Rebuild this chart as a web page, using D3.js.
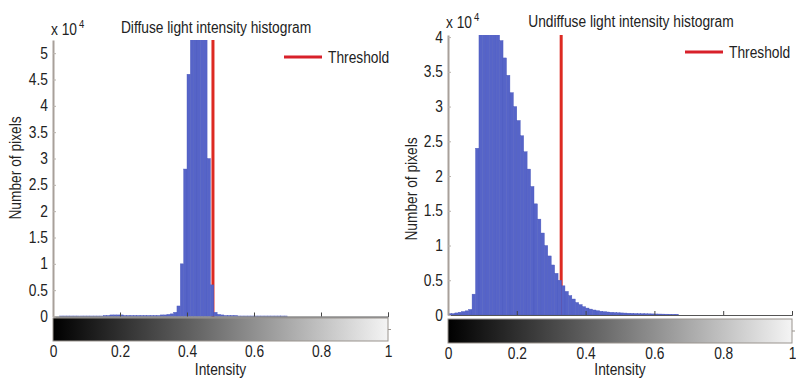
<!DOCTYPE html>
<html>
<head>
<meta charset="utf-8">
<script src="https://cdn.jsdelivr.net/npm/d3@7"></script>
<style>
  body { margin: 0; background: #fff; }
  svg text { font-family: "Liberation Sans", Arial, sans-serif; fill: #222; }
</style>
</head>
<body>
<svg id="chart" width="796" height="379"></svg>
<script>
// histogram bins, width 0.01 on the intensity axis, counts in units of 10^4 pixels
const binWidth = 0.01;
const binStarts = d3.range(100).map(i => i / 100);

const diffuseCounts = [
  0, 0, 0.01, 0.01, 0.01, 0.01, 0.01, 0.01, 0.01, 0.01,
  0.01, 0.01, 0.01, 0.01, 0.01, 0.02, 0.02, 0.03, 0.03, 0.03,
  0.03, 0.02, 0.02, 0.02, 0.02, 0.02, 0.02, 0.02, 0.02, 0.02,
  0.02, 0.02, 0.03, 0.03, 0.04, 0.05, 0.08, 0.2, 1.0, 2.8,
  4.6, 5.6, 6.4, 6.7, 6.3, 5.4, 3.0, 0.6, 0.08, 0.04,
  0.03, 0.02, 0.02, 0.02, 0.02, 0.01, 0.01, 0.01, 0.01, 0.01,
  0.01, 0.01, 0.01, 0.01, 0.01, 0.01, 0.01, 0.01, 0.01, 0.01,
  0, 0, 0, 0, 0, 0, 0, 0, 0, 0,
  0, 0, 0, 0, 0, 0, 0, 0, 0, 0,
  0, 0, 0, 0, 0, 0, 0, 0, 0, 0
];

const undiffuseCounts = [
  0.02, 0.02, 0.03, 0.04, 0.05, 0.06, 0.08, 0.3, 2.4, 4.4,
  5.1, 5.2, 5.0, 4.7, 4.3, 3.95, 3.7, 3.45, 3.2, 3.0,
  2.8, 2.58, 2.35, 2.1, 1.85, 1.6, 1.38, 1.18, 1.0, 0.85,
  0.72, 0.6, 0.5, 0.42, 0.34, 0.28, 0.23, 0.18, 0.15, 0.12,
  0.1, 0.085, 0.072, 0.062, 0.054, 0.048, 0.043, 0.039, 0.035, 0.032,
  0.03, 0.028, 0.026, 0.024, 0.022, 0.02, 0.019, 0.018, 0.017, 0.016,
  0.015, 0.014, 0.013, 0.012, 0.011, 0.01, 0.01, 0, 0, 0,
  0, 0, 0, 0, 0, 0, 0, 0, 0, 0,
  0, 0, 0, 0, 0, 0, 0, 0, 0, 0,
  0, 0, 0, 0, 0, 0, 0, 0, 0, 0
];

const diffuseThreshold = 0.4775;
const undiffuseThreshold = 0.329;

const diffuseYTicks = [0, 0.5, 1, 1.5, 2, 2.5, 3, 3.5, 4, 4.5, 5];
const undiffuseYTicks = [0, 0.5, 1, 1.5, 2, 2.5, 3, 3.5, 4];
const xTicks = [0, 0.2, 0.4, 0.6, 0.8, 1];

const titles = ["Diffuse light intensity histogram", "Undiffuse light intensity histogram"];
const yLabel = "Number of pixels";
const xLabel = "Intensity";
const legendLabel = "Threshold";

const svg = d3.select("#chart");
const fmt = d3.format("~g");
const squeeze = 0.86; // the figure uses a condensed face

// narrow a label horizontally to mimic the condensed typeface
function condense(sel) {
  sel.each(function () {
    var w = this.getComputedTextLength();
    if (w > 0) d3.select(this).attr("textLength", w * squeeze).attr("lengthAdjust", "spacingAndGlyphs");
  });
  return sel;
}

// grey ramp for the colour bar under each plot
const grad = svg.append("defs").append("linearGradient").attr("id", "greys");
grad.append("stop").attr("offset", "0%").attr("stop-color", "#000");
grad.append("stop").attr("offset", "45%").attr("stop-color", "#6a6a6a");
grad.append("stop").attr("offset", "100%").attr("stop-color", "#f4f4f4");

function drawPanel(o) {
  var x = d3.scaleLinear().domain([0, 1]).range([o.x0, o.x1]);
  var y = d3.scaleLinear().domain([0, o.ymax]).range([o.y0, o.y1]);
  var g = svg.append("g");

  g.append("clipPath").attr("id", o.id)
    .append("rect")
    .attr("x", o.x0).attr("y", o.y1)
    .attr("width", o.x1 - o.x0).attr("height", o.y0 - o.y1);

  // threshold (under the histogram)
  g.append("line")
    .attr("x1", x(o.threshold)).attr("x2", x(o.threshold))
    .attr("y1", y(0)).attr("y2", y(o.ymax))
    .attr("stroke", "#dd2a22").attr("stroke-width", 3);

  g.append("g").attr("clip-path", "url(#" + o.id + ")")
    .selectAll("rect")
    .data(o.counts)
    .enter().append("rect")
    .attr("x", (d, i) => x(binStarts[i]))
    .attr("width", (d, i) => x(binStarts[i] + binWidth) - x(binStarts[i]))
    .attr("y", d => y(d))
    .attr("height", d => y(0) - y(d))
    .attr("fill", "#5664c8")
    .attr("stroke", "#4a57bc")
    .attr("stroke-width", 0.4);

  // colour bar
  g.append("rect")
    .attr("x", x(0)).attr("y", o.cb0)
    .attr("width", x(1) - x(0)).attr("height", o.cb1 - o.cb0)
    .attr("fill", "url(#greys)")
    .attr("stroke", "#9a948e").attr("stroke-width", 1);

  g.append("line")
    .attr("x1", x(1)).attr("x2", x(1) + 3)
    .attr("y1", (o.cb0 + o.cb1) / 2).attr("y2", (o.cb0 + o.cb1) / 2)
    .attr("stroke", "#9a948e");

  // top ticks of the plot's x axis
  var xTop = g.append("g")
    .attr("transform", "translate(0," + o.y0 + ")")
    .call(d3.axisBottom(x).tickValues(xTicks).tickSize(-4).tickFormat(""));
  xTop.select(".domain").attr("stroke", "#555");
  xTop.selectAll(".tick line").attr("stroke", "#444");

  var xAx = g.append("g")
    .attr("transform", "translate(0," + o.cb1 + ")")
    .call(d3.axisBottom(x).tickValues(xTicks).tickSize(0).tickPadding(5).tickFormat(fmt));
  xAx.select(".domain").remove();
  condense(xAx.selectAll("text").attr("font-size", 16).attr("fill", "#222"));

  var yAx = g.append("g")
    .attr("transform", "translate(" + o.x0 + ",0)")
    .call(d3.axisLeft(y).tickValues(o.yTicks).tickSizeInner(-3).tickSizeOuter(0)
      .tickPadding(5).tickFormat(fmt));
  yAx.select(".domain").attr("stroke", "#a8a09a").attr("stroke-width", 2);
  yAx.selectAll(".tick line").attr("stroke", "#b8b2ac");
  condense(yAx.selectAll("text").attr("font-size", 16).attr("fill", "#222"));

  // x 10^4 multiplier
  var mult = g.append("text")
    .attr("x", o.x0 - 2).attr("y", o.multY)
    .attr("font-size", 16)
    .text("x 10");
  var mw = mult.node().getComputedTextLength() * squeeze;
  condense(mult);
  condense(g.append("text")
    .attr("x", o.x0 + mw).attr("y", o.multY - 7)
    .attr("font-size", 11)
    .text("4"));

  condense(g.append("text")
    .attr("x", o.titleX).attr("y", o.titleY)
    .attr("text-anchor", "middle")
    .attr("font-size", 16)
    .text(o.title));

  condense(g.append("text")
    .attr("transform", "translate(" + o.yLabX + "," + o.yLabY + ") rotate(-90)")
    .attr("text-anchor", "middle")
    .attr("dy", "0.35em")
    .attr("font-size", 16)
    .text(yLabel));

  condense(g.append("text")
    .attr("x", (x(0) + x(1)) / 2).attr("y", 375)
    .attr("text-anchor", "middle")
    .attr("font-size", 16)
    .text(xLabel));

  // legend
  g.append("line")
    .attr("x1", o.legX).attr("x2", o.legX + 38)
    .attr("y1", o.legY).attr("y2", o.legY)
    .attr("stroke", "#d8202a").attr("stroke-width", 3);
  condense(g.append("text")
    .attr("x", o.legX + 44).attr("y", o.legY)
    .attr("dy", "0.35em")
    .attr("font-size", 16)
    .text(legendLabel));
}

drawPanel({
  id: "clipL", counts: diffuseCounts, threshold: diffuseThreshold,
  yTicks: diffuseYTicks, ymax: 5.25, title: titles[0],
  x0: 53, x1: 388, y0: 316.5, y1: 40, cb0: 318, cb1: 341,
  multY: 35, titleX: 216, titleY: 33, yLabX: 15, yLabY: 168,
  legX: 284, legY: 57
});

drawPanel({
  id: "clipR", counts: undiffuseCounts, threshold: undiffuseThreshold,
  yTicks: undiffuseYTicks, ymax: 4.03, title: titles[1],
  x0: 448, x1: 792, y0: 315, y1: 35, cb0: 319, cb1: 343,
  multY: 28, titleX: 631, titleY: 27, yLabX: 411, yLabY: 189,
  legX: 685, legY: 52
});
</script>
</body>
</html>
